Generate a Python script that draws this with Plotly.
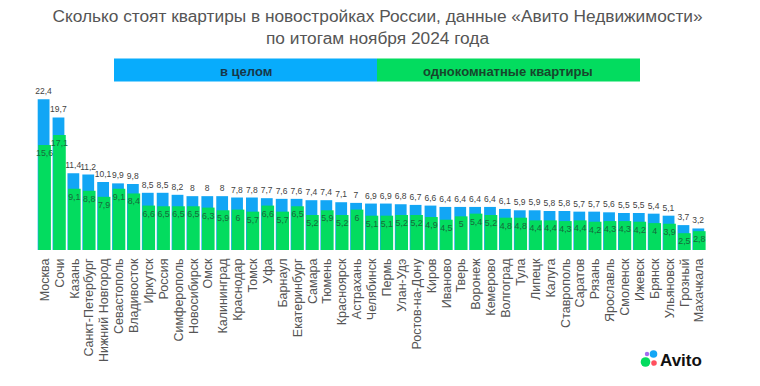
import plotly.graph_objects as go

cities = ["Москва","Сочи","Казань","Санкт-Петербург","Нижний Новгород","Севастополь","Владивосток","Иркутск","Россия","Симферополь","Новосибирск","Омск","Калининград","Краснодар","Томск","Уфа","Барнаул","Екатеринбург","Самара","Тюмень","Красноярск","Астрахань","Челябинск","Пермь","Улан-Удэ","Ростов-на-Дону","Киров","Иваново","Тверь","Воронеж","Кемерово","Волгоград","Тула","Липецк","Калуга","Ставрополь","Саратов","Рязань","Ярославль","Смоленск","Ижевск","Брянск","Ульяновск","Грозный","Махачкала"]
overall = [22.4,19.7,11.4,11.2,10.1,9.9,9.8,8.5,8.5,8.2,8,8,8,7.8,7.8,7.7,7.6,7.6,7.4,7.4,7.1,7,6.9,6.9,6.8,6.7,6.6,6.4,6.4,6.4,6.4,6.1,5.9,5.9,5.8,5.8,5.7,5.7,5.6,5.5,5.5,5.4,5.1,3.7,3.2]
one_room = [15.6,17.1,9.1,8.8,7.9,9.1,8.4,6.6,6.5,6.5,6.5,6.3,5.9,6,5.7,6.6,5.7,6.5,5.2,5.9,5.2,6,5.1,5.1,5.2,5.2,4.9,4.5,5,5.4,5.2,4.8,4.8,4.4,4.4,4.3,4.4,4.2,4.3,4.3,4.2,4,3.9,2.5,2.8]
title_text = "Сколько стоят квартиры в новостройках России, данные «Авито Недвижимости»<br>по итогам ноября 2024 года"
band_labels = ["в целом", "однокомнатные квартиры"]

W, H = 760, 386
BLUE, GREEN = "#12a6f5", "#03dc5f"
BAND_BLUE = "#08acfc"
FONT = "Liberation Sans"
def px(x): return x / W
def py(y): return 1 - y / H
def fmt(v): return str(v).replace(".", ",")

PITCH = 14.88
X0 = 44.7
BASE = 250
SCALE = 6.73
TOP = 80

fig = go.Figure()
fig.add_bar(x=cities, y=overall, width=11.8/PITCH, offset=-7.0/PITCH, marker=dict(color=BLUE, line_width=0),
            text=[fmt(v) for v in overall], textposition="outside", textangle=0, constraintext="none",
            cliponaxis=False, textfont=dict(family=FONT, size=8.5, color="#3f3f3f"))
fig.add_bar(x=cities, y=one_room, width=12.6/PITCH, offset=-6.4/PITCH, marker=dict(color=GREEN, line_width=0),
            text=[fmt(v) for v in one_room], textposition="inside", insidetextanchor="end", textangle=0,
            constraintext="none", textfont=dict(family=FONT, size=8.8, color="#17693b"))

shapes = [
    dict(type="rect", xref="paper", yref="paper", x0=px(114), x1=px(377), y0=py(81.5), y1=py(58.5), fillcolor=BAND_BLUE, line_width=0),
    dict(type="rect", xref="paper", yref="paper", x0=px(377), x1=px(640), y0=py(81.5), y1=py(58.5), fillcolor=GREEN, line_width=0),
]
for cx, cy, r, c in [(647,354,2.2,"#a56bf0"),(653.5,354,3.8,"#12a6f5"),(645.5,362,4.8,"#03dc5f"),(654,363,2.8,"#ff4f5e")]:
    shapes.append(dict(type="circle", xref="paper", yref="paper", x0=px(cx-r), x1=px(cx+r), y0=py(cy+r), y1=py(cy-r), fillcolor=c, line_width=0))

def note(text, x, y, size, color):
    return dict(text=text, xref="paper", yref="paper", x=px(x), y=py(y), showarrow=False,
                xanchor="center", yanchor="middle", font=dict(family=FONT, size=size, color=color))

annotations = [
    note("<b>%s</b>" % band_labels[0], 246, 71, 13, "#17384a"),
    note("<b>%s</b>" % band_labels[1], 508, 71, 13, "#17462c"),
    note("<b>Avito</b>", 681, 360, 17, "#111111"),
]

fig.update_layout(
    width=W, height=H, barmode="overlay", showlegend=False,
    paper_bgcolor="white", plot_bgcolor="white", margin=dict(l=0, r=0, t=0, b=0),
    title=dict(text=title_text, x=377.5/W, xanchor="center", y=1-22/H, yanchor="middle",
               font=dict(family=FONT, size=17.3, color="#555555")),
    xaxis=dict(type="category", range=[-X0/PITCH, (W-X0)/PITCH], tickangle=-90, showgrid=False, showline=False,
               ticks="", dtick=1, tickmode="linear", ticklabelstandoff=5, tickfont=dict(family=FONT, size=12.5, color="#555555"), automargin=False),
    yaxis=dict(domain=[py(BASE), py(TOP)], range=[0, (BASE-TOP)/SCALE], visible=False),
    shapes=shapes, annotations=annotations,
)
fig.write_html("out.html", config=dict(displayModeBar=False), post_script="document.body.style.margin='0';")
